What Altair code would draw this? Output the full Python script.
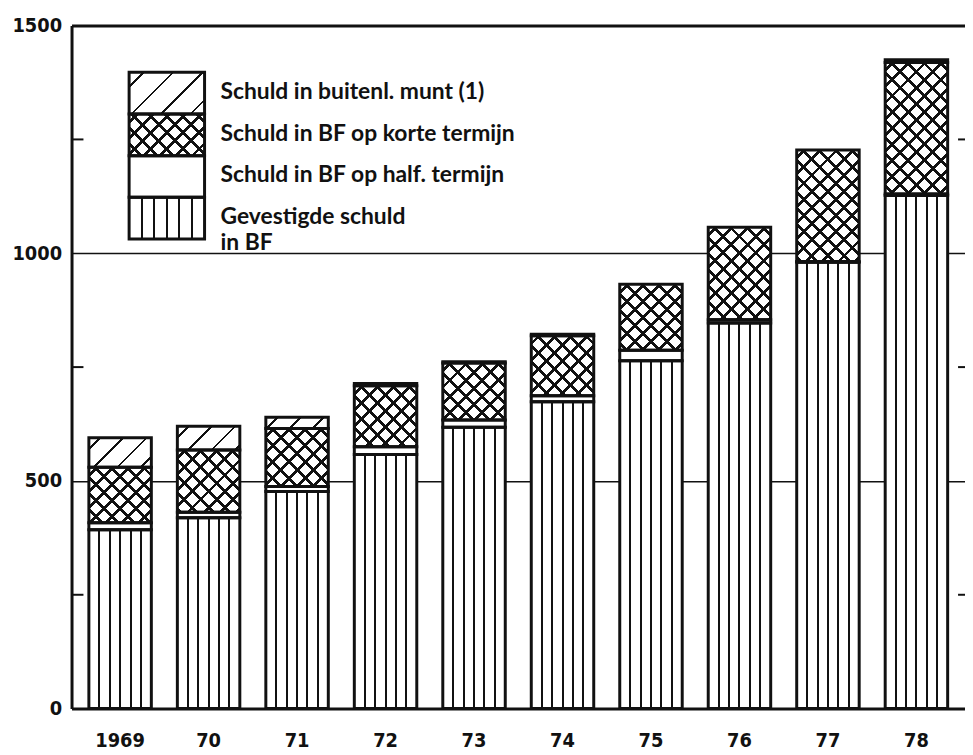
import math
import altair as alt

# ---------------- data ----------------
years = ["1969", "70", "71", "72", "73", "74", "75", "76", "77", "78"]
gevestigde = [393, 419, 477, 558, 618, 674, 764, 847, 980, 1127]      # Gevestigde schuld in BF
half_termijn = [15, 12, 11, 17, 16, 13, 23, 7, 2, 3]                   # Schuld in BF op half. termijn
korte_termijn = [122, 137, 127, 134, 125, 132, 145, 203, 245, 289]     # Schuld in BF op korte termijn
buitenl = [65, 52, 25, 5, 3, 3, 0, 0, 0, 6]                           # Schuld in buitenl. munt (1)

series_keys = ["gevestigde", "half", "korte", "buitenl"]
legend_lines = [
    ["Schuld in buitenl. munt (1)"],
    ["Schuld in BF op korte termijn"],
    ["Schuld in BF op half. termijn"],
    ["Gevestigde schuld", "in BF"],
]
legend_keys = ["buitenl", "korte", "half", "gevestigde"]
y_major = [0, 500, 1000, 1500]
y_minor = [250, 750, 1250]

# ---------------- layout / style ----------------
PLOT_W, PLOT_H, Y_MAX = 900, 688, 1500
PAD_IN, PAD_OUT = 0.294, 0.196
PX = PLOT_H / Y_MAX
STEP = PLOT_W / (len(years) - PAD_IN + 2 * PAD_OUT)
BW = STEP * (1 - PAD_IN)
NUM_FONT = "Liberation Sans Narrow, DejaVu Sans Condensed, Lato, sans-serif"
TXT_FONT = "Lato, Open Sans, sans-serif"
BLACK, WHITE, CLEAR = "#111111", "#ffffff", "rgba(255,255,255,0)"


def stops_for(centers, half, bg):
    st = [{"offset": 0, "color": bg}]
    for c in centers:
        a = round(max(0.0, c - half), 4)
        b = round(min(1.0, c + half), 4)
        st += [{"offset": a, "color": bg}, {"offset": a, "color": BLACK},
               {"offset": b, "color": BLACK}, {"offset": b, "color": bg}]
    st.append({"offset": 1, "color": bg})
    return st


def vstripes(w, sections=6, lw=2.0):
    centers = [k / sections for k in range(1, sections)]
    return {"gradient": "linear", "x1": 0, "y1": 0, "x2": 1, "y2": 0,
            "stops": stops_for(centers, lw / 2 / w, WHITE)}


def diag(w, h, period, lw, direction, bg):
    r = h / w
    s = (1 + r) / (1 + r * r)
    span = (w + h) / math.sqrt(2)
    centers, t = [], period / 2
    while t < span:
        centers.append(t / span)
        t += period
    if direction == "/":
        x1, y1, x2, y2 = 0, 0, s, s * r
    else:
        x1, y1, x2, y2 = 1, 0, 1 - s, s * r
    return {"gradient": "linear", "x1": round(x1, 4), "y1": round(y1, 4),
            "x2": round(x2, 4), "y2": round(y2, 4),
            "stops": stops_for(centers, lw / 2 / span, bg)}


def fills(key, w, h, hatch_period):
    if key == "gevestigde":
        return vstripes(w), None
    if key == "half":
        return WHITE, None
    if key == "korte":
        return (diag(w, h, 11.5, 2.8, "/", WHITE),
                diag(w, h, 11.5, 2.8, "\\", CLEAR))
    return diag(w, h, hatch_period, 2.0, "/", WHITE), None


values = dict(zip(series_keys, [gevestigde, half_termijn, korte_termijn, buitenl]))
records = []
for i, yr in enumerate(years):
    for order, key in enumerate(series_keys):
        v = values[key][i]
        if v <= 0:
            continue
        g1, g2 = fills(key, BW, v * PX, 16.5)
        rec = {"year": yr, "order": order, "value": v, "g1": g1}
        if g2 is not None:
            rec["g2"] = g2
        records.append(rec)

bars = alt.Chart(alt.InlineData(values=records)).transform_stack(
    stack="value", groupby=["year"], as_=["y0", "y1"],
    sort=[alt.SortField("order", order="ascending")],
)

x_enc = alt.X(
    "year:N", sort=years,
    scale=alt.Scale(domain=years, paddingInner=PAD_IN, paddingOuter=PAD_OUT),
    axis=alt.Axis(title=None, ticks=False, domain=True, domainColor=BLACK,
                  domainWidth=3, labelAngle=0, labelFont=NUM_FONT,
                  labelFontSize=20, labelFontWeight="bold", labelColor=BLACK,
                  labelPadding=22, grid=False),
)
y_scale = alt.Scale(domain=[0, Y_MAX], nice=False, zero=True)
y_axis = alt.Axis(values=y_major, title=None, ticks=False, domain=True,
                  domainColor=BLACK, domainWidth=3, grid=True, gridColor=BLACK,
                  gridWidth={"condition": {"test": "datum.value === 1500", "value": 3},
                             "value": 1.5},
                  format="d",
                  labelFont=NUM_FONT, labelFontSize=20, labelFontWeight="bold",
                  labelColor=BLACK, labelPadding=10)
y_enc = alt.Y("y1:Q", scale=y_scale, axis=y_axis)

bar_fill = bars.mark_bar(strokeWidth=0).encode(
    x=x_enc, y=y_enc, y2="y0:Q", fill=alt.Fill("g1:N", scale=None))
bar_cross = bars.transform_filter("datum.order === 2").mark_bar(strokeWidth=0).encode(
    x=x_enc, y=y_enc, y2="y0:Q", fill=alt.Fill("g2:N", scale=None))
bar_outline = bars.mark_bar(fill="transparent", stroke=BLACK, strokeWidth=3).encode(
    x=x_enc, y=y_enc, y2="y0:Q")

tick_data = alt.InlineData(values=[{"v": v} for v in y_minor])
ticks_left = alt.Chart(tick_data).mark_rule(color=BLACK, strokeWidth=2).encode(
    y=alt.Y("v:Q", scale=y_scale, axis=y_axis), x=alt.value(0), x2=alt.value(12))
ticks_right = alt.Chart(tick_data).mark_rule(color=BLACK, strokeWidth=2).encode(
    y=alt.Y("v:Q", scale=y_scale, axis=y_axis), x=alt.value(893), x2=alt.value(900))

main = alt.layer(bar_fill, bar_cross, bar_outline, ticks_left, ticks_right)

# ---------------- legend ----------------
LEG_W, LEG_H = 76, 42
leg_records = []
for row, key in enumerate(legend_keys):
    g1, g2 = fills(key, LEG_W, LEG_H, 21.0)
    rec = {"row": row, "label": legend_lines[row][0], "g1": g1}
    if g2 is not None:
        rec["g2"] = g2
    leg_records.append(rec)
extra_lines = [{"row": r, "label": lines[1]} for r, lines in enumerate(legend_lines) if len(lines) > 1]

leg_scale = alt.Scale(domain=list(range(len(legend_keys))), range=[47, 215],
                      paddingInner=0, paddingOuter=0)
leg_y = alt.Y("row:O", scale=leg_scale, axis=None)
leg_base = alt.Chart(alt.InlineData(values=leg_records))

leg_fill = leg_base.mark_rect(strokeWidth=0).encode(
    y=leg_y, x=alt.value(58), x2=alt.value(134), fill=alt.Fill("g1:N", scale=None))
leg_cross = leg_base.transform_filter("isValid(datum.g2)").mark_rect(strokeWidth=0).encode(
    y=leg_y, x=alt.value(58), x2=alt.value(134), fill=alt.Fill("g2:N", scale=None))
leg_outline = leg_base.mark_rect(fill="transparent", stroke=BLACK, strokeWidth=3).encode(
    y=leg_y, x=alt.value(58), x2=alt.value(134))
leg_text = leg_base.mark_text(align="left", baseline="middle", font=TXT_FONT,
                              fontSize=23, fontWeight="bold", color=BLACK, dy=-1).encode(
    y=leg_y, x=alt.value(150), text="label:N")
leg_text2 = alt.Chart(alt.InlineData(values=extra_lines)).mark_text(
    align="left", baseline="middle", font=TXT_FONT, fontSize=23, fontWeight="bold",
    color=BLACK, dy=25).encode(y=leg_y, x=alt.value(150), text="label:N")

legend = alt.layer(leg_fill, leg_cross, leg_outline, leg_text, leg_text2)

chart = alt.layer(main, legend).resolve_scale(y="independent").properties(
    width=PLOT_W, height=PLOT_H,
    autosize=alt.AutoSizeParams(type="none"),
    padding={"left": 64, "top": 15, "right": 0, "bottom": 42},
    background="white",
).configure_view(strokeWidth=0)

chart.save("out.html", embed_options={"renderer": "svg", "actions": False})
